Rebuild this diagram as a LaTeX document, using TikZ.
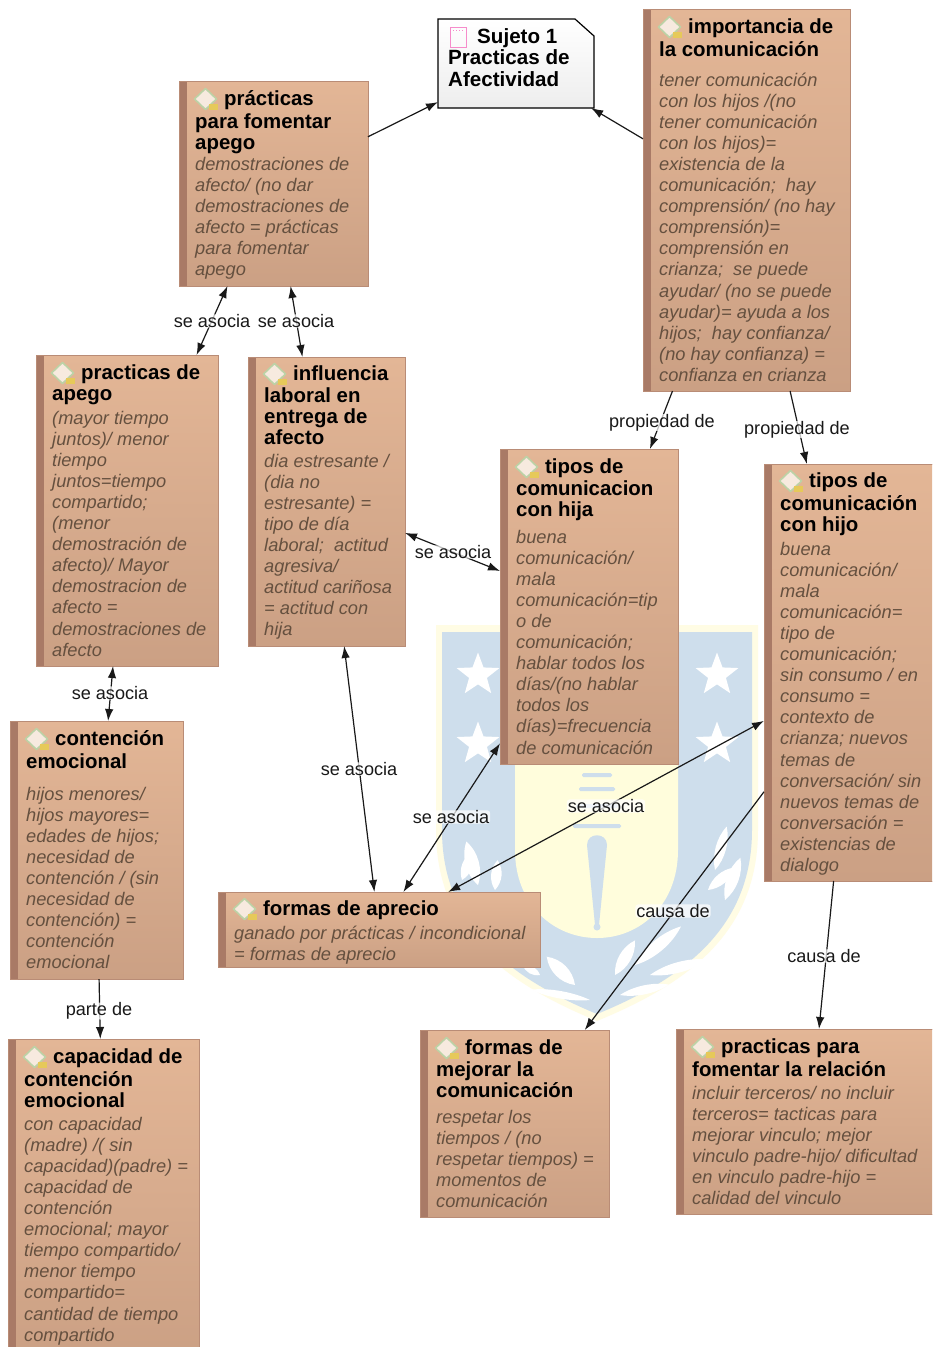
\documentclass[tikz,border=0pt]{standalone}
\usepackage{fontspec}
\setmainfont{Liberation Sans}
\usetikzlibrary{arrows.meta,shapes.geometric}
\definecolor{barbrown}{HTML}{A97A66}
\definecolor{boxedge}{HTML}{B98C76}
\definecolor{boxtop}{HTML}{E3B696}
\definecolor{boxbot}{HTML}{CBA084}
\definecolor{bodytxt}{HTML}{65503F}
\definecolor{crestblue}{HTML}{CEDEEC}
\definecolor{crestyel}{HTML}{FFFDDC}
\definecolor{outeryel}{HTML}{FFFCE4}
\definecolor{diafill}{HTML}{F7EADF}
\definecolor{diaedge}{HTML}{BCD2A6}
\definecolor{notey}{HTML}{E6C95A}
\tikzset{
  conceptbox/.style={draw=boxedge,line width=1pt,rectangle,inner sep=0pt,outer sep=0pt,top color=boxtop,bottom color=boxbot},
  titletxt/.style={anchor=north west,inner sep=0pt,align=left,text=black,font=\fontsize{20.4}{21.05}\selectfont\bfseries},
  bodytext/.style={anchor=north west,inner sep=0pt,align=left,text=bodytxt,font=\fontsize{18.25}{21.05}\selectfont\itshape},
  link/.style={line width=1.2pt,draw=black!90,-{Latex[length=12pt,width=8.5pt]}},
  dbl/.style={line width=1.2pt,draw=black!90,{Latex[length=12pt,width=8.5pt]}-{Latex[length=12pt,width=8.5pt]}},
  lab/.style={fill=white,fill opacity=.72,text opacity=1,inner xsep=1pt,inner ysep=0pt,rounded corners=3pt,text=black!90,font=\fontsize{18.1}{20}\selectfont},
  starw/.style={star,star points=5,star point ratio=2.4,fill=white,minimum size=45pt,inner sep=0pt},
}
% name x1 y1 x2 y2 titleCentreY bodyCentreY title body
\newcommand{\cbox}[9]{%
  \pgfmathsetlengthmacro{\bw}{(#4-#2)*1pt}%
  \pgfmathsetlengthmacro{\bh}{(#5-#3)*1pt}%
  \pgfmathsetmacro{\tx}{#2+16}%
  \node[conceptbox,minimum width=\bw,minimum height=\bh] (#1) at ({(#2+#4)/2},{(#3+#5)/2}) {};
  \fill[barbrown] (#2,#3) rectangle ({#2+8},#5);
  \draw[boxedge,line width=1pt] (#2,#3) rectangle (#4,#5);
  \begin{scope}[shift={(\tx,#6)}]
    \path[fill=diafill,draw=diaedge,line width=1.6pt,line join=round] (-0.5,0) -- (10.5,-10.5) -- (21.5,0) -- (10.5,10.5) -- cycle;
    \fill[notey] (14,5) rectangle (22.5,10.5);
  \end{scope}
  \node[titletxt] (#1t) at (\tx,{#6-8.2}) {\strut\hspace{29pt}#8};
  \node[bodytext] (#1b) at (\tx,{#7-8.4}) {\strut #9};
}
\newcommand{\leaf}[5]{% x y angle length halfwidth
  \fill[white,shift={(#1,#2)},rotate=#3] (0,0) .. controls ({.3*#4},#5) and ({.7*#4},#5) .. (#4,0) .. controls ({.7*#4},-#5) and ({.3*#4},-#5) .. (0,0) -- cycle;
}
\begin{document}
\begin{tikzpicture}[x=1pt,y=-1pt]
\path[use as bounding box,clip] (0,0) rectangle (932,1347);
\fill[white] (0,0) rectangle (932,1347);
% crest
\fill[outeryel] (436,625) -- (758,625) -- (758,830) .. controls (758,935) and (684,985) .. (597,1021) .. controls (510,985) and (436,935) .. (436,830) -- cycle;
\fill[crestblue] (442,632) -- (752,632) -- (752,830) .. controls (752,930) and (680,980) .. (597,1014) .. controls (515,980) and (442,930) .. (442,830) -- cycle;
\fill[crestyel] (515,632) -- (678,632) -- (678,850) .. controls (678,905) and (640,938) .. (597,938) .. controls (554,938) and (515,905) .. (515,850) -- cycle;
\node[starw] (s1) at (478,675) {};
\node[starw] (s2) at (478,744) {};
\node[starw] (s3) at (717,675) {};
\node[starw] (s4) at (717,744) {};
\foreach \yy/\hw in {775/15,789/18,806/21,826/24}
  \fill[crestblue,rounded corners=1.5pt] ({597-\hw},{\yy-2}) rectangle ({597+\hw},{\yy+2});
\fill[crestblue] (587,845) .. controls (587,832) and (607,832) .. (607,845) -- (599,925) -- (595,925) -- cycle;
\fill[crestblue] (597,927) circle (3.5);
\leaf{478}{885}{105}{45}{9}
\leaf{495}{890}{85}{30}{7}
\leaf{462}{880}{70}{30}{7}
\leaf{715}{870}{75}{45}{7}
\leaf{708}{890}{40}{35}{7}
\leaf{725}{900}{70}{45}{8}
\leaf{540}{975}{150}{20}{5}
\leaf{575}{985}{135}{40}{9}
\leaf{590}{1000}{170}{60}{5}
\leaf{615}{975}{60}{40}{8}
\leaf{635}{965}{40}{60}{8}
\leaf{650}{975}{15}{60}{7}
\leaf{620}{995}{12}{50}{6}
% concept boxes
\cbox{fom}{179}{81}{368}{286}{99}{164}{prácticas\\para fomentar\\apego}{demostraciones de\\afecto/ (no dar\\demostraciones de\\afecto = prácticas\\para fomentar\\apego}
\cbox{imp}{643}{9}{850}{391}{27}{80}{importancia de\\la comunicación}{tener comunicación\\con los hijos /(no\\tener comunicación\\con los hijos)=\\existencia de la\\comunicación;\ \ hay\\comprensión/ (no hay\\comprensión)=\\comprensión en\\crianza;\ \ se puede\\ayudar/ (no se puede\\ayudar)= ayuda a los\\hijos;\ \ hay confianza/\\(no hay confianza) =\\confianza en crianza}
\cbox{ape}{36}{355}{218}{666}{373}{418}{practicas de\\apego}{(mayor tiempo\\juntos)/ menor\\tiempo\\juntos=tiempo\\compartido;\\(menor\\demostración de\\afecto)/ Mayor\\demostracion de\\afecto =\\demostraciones de\\afecto}
\cbox{inf}{248}{357}{405}{646}{374}{461}{influencia\\laboral en\\entrega de\\afecto}{dia estresante /\\(dia no\\estresante) =\\tipo de día\\laboral;\ \ actitud\\agresiva/\\actitud cariñosa\\= actitud con\\hija}
\cbox{hja}{500}{449}{678}{764}{467}{537}{tipos de\\comunicacion\\con hija}{buena\\comunicación/\\mala\\comunicación=tip\\o de\\comunicación;\\hablar todos los\\días/(no hablar\\todos los\\días)=frecuencia\\de comunicación}
\cbox{hjo}{764}{464}{944}{881}{481}{549}{tipos de\\comunicación\\con hijo}{buena\\comunicación/\\mala\\comunicación=\\tipo de\\comunicación;\\sin consumo / en\\consumo =\\contexto de\\crianza; nuevos\\temas de\\conversación/ sin\\nuevos temas de\\conversación =\\existencias de\\dialogo}
\cbox{con}{10}{721}{183}{979}{739}{794}{contención\\emocional}{hijos menores/\\hijos mayores=\\edades de hijos;\\necesidad de\\contención / (sin\\necesidad de\\contención) =\\contención\\emocional}
\cbox{cap}{8}{1039}{199}{1361}{1057}{1124}{capacidad de\\contención\\emocional}{con capacidad\\(madre) /( sin\\capacidad)(padre) =\\capacidad de\\contención\\emocional; mayor\\tiempo compartido/\\menor tiempo\\compartido=\\cantidad de tiempo\\compartido}
\cbox{apr}{218}{892}{540}{967}{909}{933}{formas de aprecio}{ganado por prácticas / incondicional\\= formas de aprecio}
\cbox{mej}{420}{1030}{609}{1217}{1048}{1117}{formas de\\mejorar la\\comunicación}{respetar los\\tiempos / (no\\respetar tiempos) =\\momentos de\\comunicación}
\cbox{rel}{676}{1029}{944}{1214}{1047}{1093}{practicas para\\fomentar la relación}{incluir terceros/ no incluir\\terceros= tacticas para\\mejorar vinculo; mejor\\vinculo padre-hijo/ dificultad\\en vinculo padre-hijo =\\calidad del vinculo}
% subject note
\node[rectangle,minimum width=156pt,minimum height=89pt,inner sep=0pt,outer sep=0pt] (suj) at (516,63.5) {};
\draw[black,line width=1.2pt,top color=white,bottom color=black!7] (438,19) -- (575,19) -- (594,36) -- (594,108) -- (438,108) -- cycle;
\draw[magenta!45,line width=1pt] (450.5,27.5) rectangle (466,47.5);
\draw[magenta!45,line width=1pt,dotted] (453,30) -- (464,30);
\node[titletxt,font=\fontsize{20.6}{21.5}\selectfont\bfseries] (sujt) at (448,28) {\strut\hspace{29pt}Sujeto 1\\Practicas de\\Afectividad};
% connectors
\draw[link] (fom) -- (suj);
\draw[link] (imp) -- (suj);
\draw[dbl] (fom) -- (ape);
\draw[dbl] (fom) -- (inf);
\draw[link] (imp) -- (hja);
\draw[link] (imp) -- (hjo);
\draw[dbl] (inf) -- (hja);
\draw[dbl] (inf) -- (apr);
\draw[dbl] (apr) -- (hja);
\draw[dbl] (apr) -- (hjo);
\draw[link] (hjo) -- (mej);
\draw[link] (hjo) -- (rel);
\draw[dbl] (ape) -- (con);
\draw[link] (con) -- (cap);
% labels
\node[lab] (l1) at (212,321) {se asocia};
\node[lab] (l2) at (296,321) {se asocia};
\node[lab] (l3) at (662,422.5) {propiedad de};
\node[lab] (l4) at (797,429.5) {propiedad de};
\node[lab] (l5) at (453,552) {se asocia};
\node[lab] (l6) at (359,769) {se asocia};
\node[lab] (l7) at (451,817) {se asocia};
\node[lab] (l8) at (606,806) {se asocia};
\node[lab] (l9) at (673,911) {causa de};
\node[lab] (l10) at (824,956) {causa de};
\node[lab] (l11) at (110,693) {se asocia};
\node[lab] (l12) at (99,1011) {parte de};
\end{tikzpicture}
\end{document}
